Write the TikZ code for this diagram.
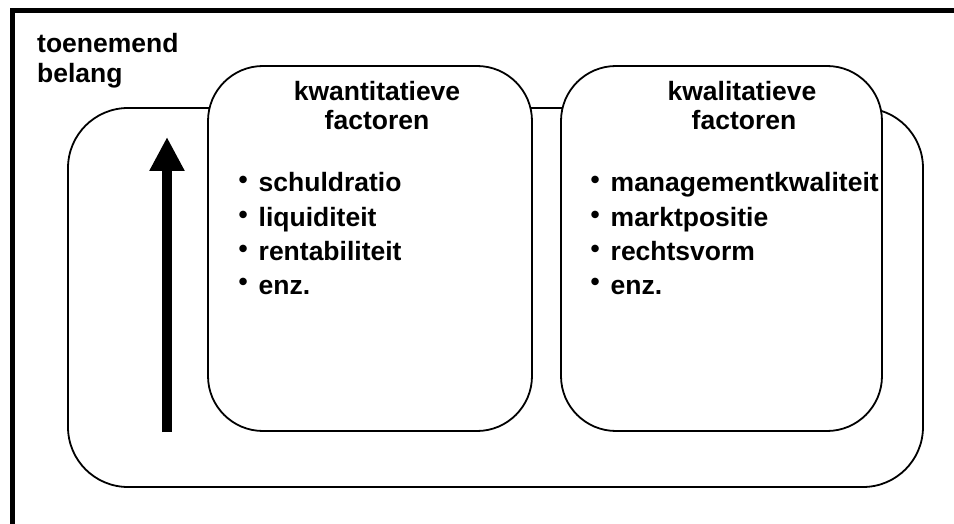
\documentclass[tikz,border=0pt]{standalone}
\usepackage{fontspec}
\setmainfont{Liberation Sans}
\usetikzlibrary{arrows.meta}
\newcommand{\bul}{\makebox[20pt][l]{\raisebox{3pt}{\fontsize{26}{26}\selectfont •}}}
\begin{document}
\begin{tikzpicture}[x=1pt,y=-1pt,
  lbl/.style={font=\fontsize{26.5}{30}\selectfont\bfseries, inner sep=0pt},
  ttl/.style={lbl, anchor=base},
  itm/.style={lbl, anchor=base west},
  roundbox/.style={draw=black, line width=1.8pt, fill=white, rectangle, inner sep=0pt}]
\path[use as bounding box] (0,0) rectangle (954,524);
\begin{scope}
\clip (0,0) rectangle (954,524);
\fill[white] (0,0) rectangle (954,524);
\draw[line width=5pt] (12,700) -- (12,10.5) -- (1100,10.5);
\end{scope}
% outer rounded box
\node[roundbox, rounded corners=60pt, minimum width=855pt, minimum height=379pt] (outer) at (495.5,297.5) {};
% inner boxes
\node[roundbox, rounded corners=55pt, minimum width=324pt, minimum height=365pt] (quant) at (370,248.5) {};
\node[roundbox, rounded corners=55pt, minimum width=321pt, minimum height=365pt] (qual) at (721.5,248.5) {};
% side label
\node[itm] (t1) at (37,53) {toenemend};
\node[itm] (t2) at (37,83) {belang};
% arrow
\coordinate (abot) at (167,432);
\coordinate (atop) at (167,137);
\draw[line width=10pt, -{Triangle[width=33pt,length=34pt]}] (abot) -- (atop);
% titles
\node[ttl] (q1) at (377,101) {kwantitatieve};
\node[ttl] (q2) at (377,130) {factoren};
\node[ttl] (k1) at (742,101) {kwalitatieve};
\node[ttl] (k2) at (744,130) {factoren};
% left list
\node[itm] (l1) at (238.5,192) {\bul schuldratio};
\node[itm] (l2) at (238.5,226) {\bul liquiditeit};
\node[itm] (l3) at (238.5,260) {\bul rentabiliteit};
\node[itm] (l4) at (238.5,294) {\bul enz.};
% right list
\node[itm] (r1) at (590.5,192) {\bul managementkwaliteit};
\node[itm] (r2) at (590.5,226) {\bul marktpositie};
\node[itm] (r3) at (590.5,260) {\bul rechtsvorm};
\node[itm] (r4) at (590.5,294) {\bul enz.};
\end{tikzpicture}
\end{document}
